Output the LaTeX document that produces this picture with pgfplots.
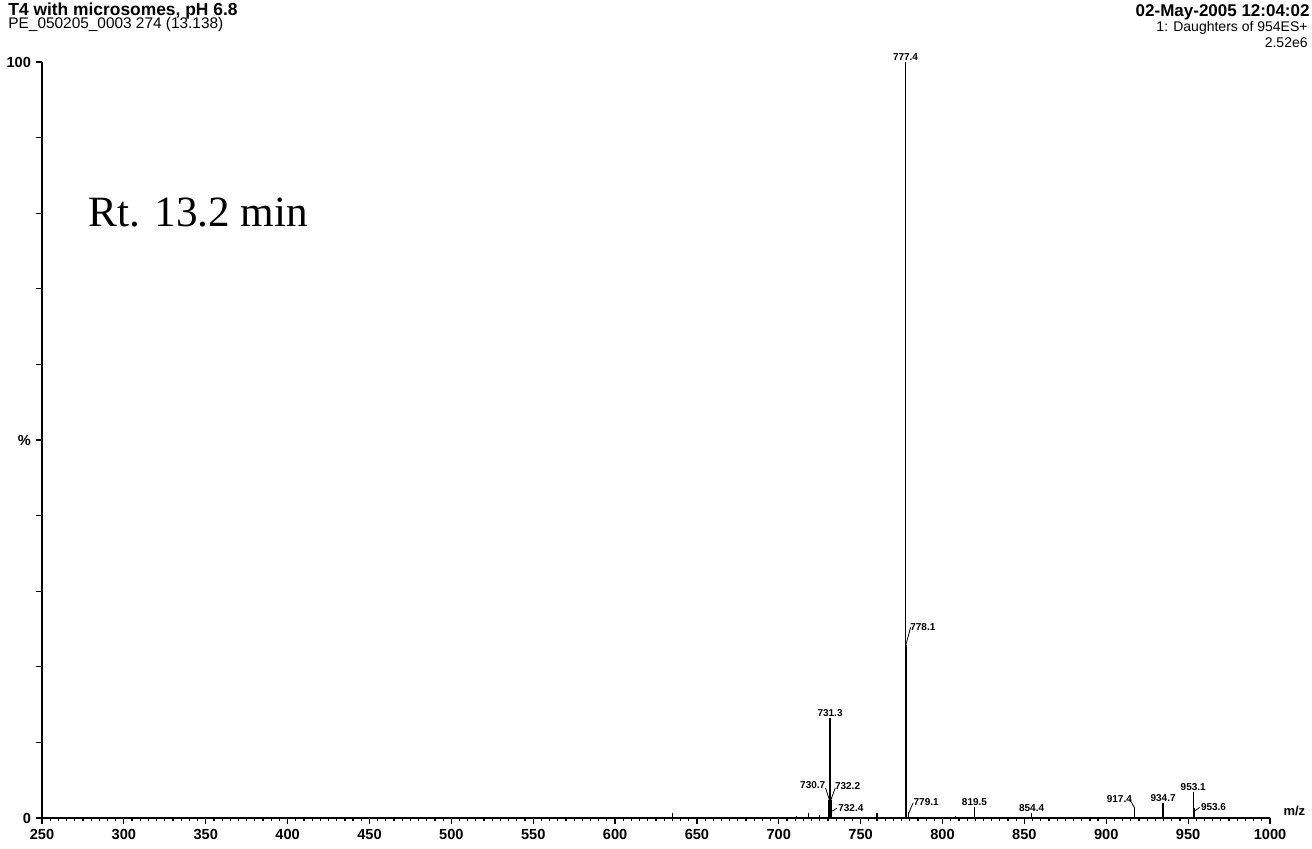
\documentclass[border=0pt]{standalone}
\usepackage{fontspec}
\setmainfont{Liberation Sans}
\newfontfamily\timesfont{Liberation Serif}
\usepackage{pgfplots}
\pgfplotsset{compat=1.18}
\pgfplotstableread{
x y
635 0.6
711 0.3
718 0.6
725 0.4
730.7 2.4
731.3 13.2
732.2 2.4
732.4 1.3
760 0.6
777.4 100
778.1 22.9
779.1 0.8
808 0.3
819.5 1.5
854.4 0.6
917.4 1.3
934.7 2.0
953.1 3.4
953.6 1.3
}\spectrum
\begin{document}
\begin{tikzpicture}
\useasboundingbox (-21pt,-15pt) rectangle (635pt,409pt);
\begin{axis}[
  scale only axis, width=614pt, height=378pt,
  xmin=250, xmax=1000, ymin=0, ymax=100,
  axis x line=bottom, axis y line=left,
  axis line style={-, line width=0.8pt},
  tick align=outside,
  xtick={250,300,...,1000}, minor x tick num=9,
  ytick={0,10,...,100}, yticklabels={0,,,,,\%,,,,,100},
  major tick length=3pt, minor tick length=1.5pt,
  tick style={black, line width=0.6pt},
  /pgf/number format/assume math mode=true,
  /pgf/number format/1000 sep={},
  ticklabel style={font=\fontsize{7.3}{8}\selectfont\bfseries},
  xticklabel style={yshift=1pt},
  yticklabel style={xshift=1pt},
  clip=false,
]
\addplot[ycomb, black, line width=0.6pt] table[x=x,y=y] {\spectrum};
\tikzset{pl/.style={font=\fontsize{5}{6}\selectfont\bfseries, inner sep=0.5pt}}
\node[pl, anchor=south] at (axis cs:777.4,100) {777.4};
\node[pl, anchor=south] at (axis cs:731.3,13.2) {731.3};
\draw[line width=0.4pt] (axis cs:777.6,22.9) -- (axis cs:780.5,25.2);
\node[pl, anchor=west] at (axis cs:779.5,25.3) {778.1};
\draw[line width=0.4pt] (axis cs:730.9,2.4) -- (axis cs:728.5,4.0);
\node[pl, anchor=east] at (axis cs:729.2,4.4) {730.7};
\draw[line width=0.4pt] (axis cs:731.8,2.4) -- (axis cs:734.5,4.0);
\node[pl, anchor=west] at (axis cs:733.5,4.2) {732.2};
\draw[line width=0.4pt] (axis cs:732.6,0.9) -- (axis cs:735.5,1.3);
\node[pl, anchor=west] at (axis cs:735.5,1.3) {732.4};
\draw[line width=0.4pt] (axis cs:779.3,0.6) -- (axis cs:782,2.0);
\node[pl, anchor=west] at (axis cs:781.5,2.1) {779.1};
\node[pl, anchor=south] at (axis cs:819.5,1.4) {819.5};
\node[pl, anchor=south] at (axis cs:854.4,0.6) {854.4};
\draw[line width=0.4pt] (axis cs:917.4,1.3) -- (axis cs:914.5,2.4);
\node[pl, anchor=east] at (axis cs:916.5,2.5) {917.4};
\node[pl, anchor=south] at (axis cs:934.7,2.0) {934.7};
\node[pl, anchor=south] at (axis cs:953.1,3.4) {953.1};
\draw[line width=0.4pt] (axis cs:953.8,0.9) -- (axis cs:957,1.4);
\node[pl, anchor=west] at (axis cs:957,1.4) {953.6};
\node[font=\fontsize{6.5}{7}\selectfont\bfseries, anchor=south west, inner sep=0pt] at (axis cs:1008,0.3) {m/z};
\end{axis}
\node[anchor=west, inner sep=0pt, font=\fontsize{8.7}{9}\selectfont\bfseries] at (-17pt,403.5pt) {T4 with microsomes, pH 6.8};
\node[anchor=west, inner sep=0pt, font=\fontsize{7.7}{9}\selectfont] at (-17pt,396.5pt) {PE\_050205\_0003 274 (13.138)};
\node[anchor=east, inner sep=0pt, font=\fontsize{8.5}{9}\selectfont\bfseries] at (634pt,403pt) {02-May-2005 12:04:02};
\node[anchor=east, inner sep=0pt, font=\fontsize{7}{8}\selectfont] at (633pt,395pt) {1: Daughters of 954ES+};
\node[anchor=east, inner sep=0pt, font=\fontsize{7}{8}\selectfont] at (633pt,387.5pt) {2.52e6};
\node[anchor=west, inner sep=0pt, font=\fontsize{21.6}{24}\selectfont\timesfont] at (23pt,302.5pt) {Rt. 13.2 min};
\end{tikzpicture}
\end{document}
